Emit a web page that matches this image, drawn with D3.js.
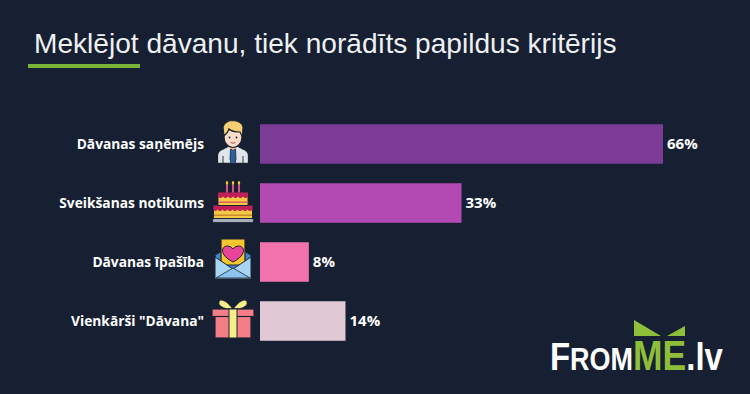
<!DOCTYPE html>
<html>
<head>
<meta charset="utf-8">
<script src="https://cdn.jsdelivr.net/npm/d3@7"></script>
<style>
  html, body { margin: 0; padding: 0; background: #162032; }
  svg { display: block; }
</style>
</head>
<body>
<svg id="chart"></svg>
<script>
// Data
const categories = ["Dāvanas saņēmējs", "Sveikšanas notikums", "Dāvanas īpašība", "Vienkārši \"Dāvana\""];
const values = [66, 33, 8, 14];
const colors = ["#7b3b96", "#b349b3", "#f272ad", "#e0c8d4"];
const icons = ["person", "cake", "letter", "gift"];

const width = 750;
const height = 394;

const svg = d3.select("#chart")
    .attr("width", width)
    .attr("height", height)
    .attr("viewBox", [0, 0, width, height]);

svg.append("rect").attr("width", width).attr("height", height).attr("fill", "#162032");

// Title
svg.append("text")
    .attr("x", 34)
    .attr("y", 53)
    .attr("fill", "#eef0f2")
    .attr("font-family", "Liberation Sans, Arial, sans-serif")
    .attr("font-size", 28.1)
    .text("Meklējot dāvanu, tiek norādīts papildus kritērijs");

svg.append("rect")
    .attr("x", 28).attr("y", 64)
    .attr("width", 112).attr("height", 4)
    .attr("fill", "#7ab338");

// Scales
const x = d3.scaleLinear().domain([0, 66]).range([260, 663]);
const y = d3.scaleBand().domain(categories).range([114.5, 350.5]).paddingInner(0.33).paddingOuter(0.165);

// Bars
svg.append("g")
    .selectAll("rect")
    .data(categories)
    .join("rect")
    .attr("x", x(0))
    .attr("y", d => y(d))
    .attr("width", (d, i) => x(values[i]) - x(0))
    .attr("height", y.bandwidth())
    .attr("fill", (d, i) => colors[i]);

// Category labels
const font = "'Open Sans', sans-serif";
svg.append("g")
    .selectAll("text")
    .data(categories)
    .join("text")
    .attr("x", 204)
    .attr("y", d => y(d) + y.bandwidth() / 2 + 5)
    .attr("text-anchor", "end")
    .attr("fill", "#ffffff")
    .attr("font-family", font)
    .attr("font-weight", 700)
    .attr("font-size", 13.75)
    .text(d => d);

// Value labels
svg.append("g")
    .selectAll("text")
    .data(categories)
    .join("text")
    .attr("x", (d, i) => x(values[i]) + 4)
    .attr("y", d => y(d) + y.bandwidth() / 2 + 5)
    .attr("fill", "#ffffff")
    .attr("font-family", font)
    .attr("font-weight", 700)
    .attr("font-size", 15)
    .text((d, i) => values[i] + "%");

// Icons, drawn around the centre of each row
const dark = "#1d2233";

function part(g, tag, attrs, fill, sw) {
    const el = g.append(tag).attr("fill", fill);
    Object.entries(attrs).forEach(([k, v]) => el.attr(k, v));
    if (sw) el.attr("stroke", dark).attr("stroke-width", sw);
    return el;
}

function drawPerson(g) {
    part(g, "path", {d: "M-15.5,19.5 L-15.5,11 Q-15,6 -9,4.5 L-4,2 L4,2 L9,4.5 Q15,6 15.5,11 L15.5,19.5 Z"}, "#dfe6ea", 1.3);
    part(g, "path", {d: "M-10,19.5 L-10,12 M10,19.5 L10,12", stroke: dark, "stroke-width": 0.9}, "none");
    part(g, "path", {d: "M-2.5,5 L2.5,5 L3,15 L2,19.5 L-2,19.5 L-3,15 Z"}, "#2a5f9e", 0.8);
    part(g, "path", {d: "M-4.5,-1 L4.5,-1 L4.5,3 L0,6 L-4.5,3 Z"}, "#eebf9c");
    part(g, "ellipse", {cx: 0, cy: -7, rx: 9, ry: 10.5}, "#fbdcc6", 1.2);
    part(g, "path", {d: "M-9,-8 L-10,-17 Q-8,-23 -1,-23.5 Q9,-23 10,-17 L9.5,-7 L7,-12 Q-1,-12 -4,-15 Q-5,-11 -9,-8 Z"}, "#f4ce72", 1.2);
    part(g, "circle", {cx: -3.5, cy: -6.5, r: 0.9}, dark);
    part(g, "circle", {cx: 3.5, cy: -6.5, r: 0.9}, dark);
    part(g, "path", {d: "M-2.5,-1.5 Q0,0 2.5,-1.5", stroke: "#a8433c", "stroke-width": 0.9}, "none");
}

function drawCake(g) {
    part(g, "rect", {x: -20.5, y: 15.5, width: 41, height: 4, rx: 1.5}, "#a6b0ba", 0.8);
    part(g, "rect", {x: -19.5, y: 2.5, width: 39, height: 13}, "#f6c945", 1);
    part(g, "path", {d: "M-19.5,2.5 H19.5 V6.5 Q17,9.5 14.5,6.5 Q12,9.5 9.5,6.5 Q7,9.5 4.5,6.5 Q2,9.5 -0.5,6.5 Q-3,9.5 -5.5,6.5 Q-8,9.5 -10.5,6.5 Q-13,9.5 -15.5,6.5 Q-17.5,9.5 -19.5,6.5 Z"}, "#c01f58");
    part(g, "rect", {x: -19, y: 11.5, width: 38, height: 1.4}, "#c4872a");
    part(g, "rect", {x: -15, y: -10.5, width: 30, height: 13}, "#f6c945", 1);
    part(g, "path", {d: "M-15,-10.5 H15 V-6.5 Q12.5,-3.5 10,-6.5 Q7.5,-3.5 5,-6.5 Q2.5,-3.5 0,-6.5 Q-2.5,-3.5 -5,-6.5 Q-7.5,-3.5 -10,-6.5 Q-12.5,-3.5 -15,-6.5 Z"}, "#c01f58");
    part(g, "rect", {x: -14.5, y: -1.5, width: 29, height: 1.4}, "#e0565b");
    [-6, 0, 6].forEach(c => {
        part(g, "rect", {x: c - 1, y: -18, width: 2, height: 7.5}, "#e04d8a");
        part(g, "ellipse", {cx: c, cy: -20, rx: 1.2, ry: 2}, "#f8c53a");
    });
}

function drawLetter(g) {
    part(g, "path", {d: "M-18,-7 L0,-18 L18,-7 L18,17 L-18,17 Z"}, "#3f86cc", 1.2);
    part(g, "path", {d: "M-12,-23 L12,-23 L12,3 L-12,3 Z"}, "#f7c62f", 1.2);
    part(g, "path", {d: "M0,0 C-14,-7 -12,-16 -5.5,-16 Q-2,-16 0,-13 Q2,-16 5.5,-16 C12,-16 14,-7 0,0 Z"}, "#e8449a", 1);
    part(g, "path", {d: "M-18,-5 L0,7 L18,-5 L18,17 L-18,17 Z"}, "#a9d5f5", 1);
    part(g, "path", {d: "M-17,16 L0,6 L17,16 Z"}, "#8cc4ef", 0.8);
}

function drawGift(g) {
    part(g, "path", {d: "M0,-12 C-5,-20 -12,-23 -14,-20 Q-16,-14 -6,-12 Z M0,-12 C5,-20 12,-23 14,-20 Q16,-14 6,-12 Z"}, "#f5ef8a", 1.2);
    part(g, "rect", {x: -18, y: -5, width: 36, height: 22}, "#f47e88", 1.2);
    part(g, "rect", {x: -21, y: -12, width: 42, height: 7.5}, "#f47e88", 1.2);
    part(g, "rect", {x: -4, y: -12, width: 8, height: 29}, "#f5ef8a", 1);
}

const iconDraw = {person: drawPerson, cake: drawCake, letter: drawLetter, gift: drawGift};

svg.append("g")
    .selectAll("g")
    .data(categories)
    .join("g")
    .attr("transform", d => `translate(233,${y(d) + y.bandwidth() / 2})`)
    .each(function(d, i) { iconDraw[icons[i]](d3.select(this)); });

// Logo, one text squeezed sideways so the letters look condensed
const logoParts = [
    {t: "F", size: 39, fill: "#ffffff"},
    {t: "ROM", size: 32, fill: "#ffffff"},
    {t: "ME", size: 42, fill: "#8fbf3a"},
    {t: ".lv", size: 39, fill: "#ffffff"}
];

svg.append("text")
    .attr("transform", "translate(550,370) scale(0.844,1)")
    .attr("font-family", "'Liberation Sans', sans-serif")
    .attr("font-weight", 700)
    .selectAll("tspan")
    .data(logoParts)
    .join("tspan")
    .attr("font-size", d => d.size)
    .attr("fill", d => d.fill)
    .text(d => d.t);

svg.append("path")
    .attr("d", "M634,320 L661,336 L634,336 Z M685,326 L685,336 L667,336 Z")
    .attr("fill", "#8fbf3a");
</script>
</body>
</html>
